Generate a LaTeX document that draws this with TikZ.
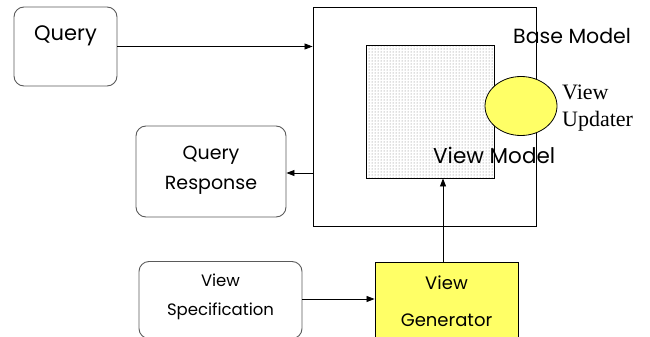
\documentclass[tikz,border=0pt]{standalone}
\usepackage{fontspec}
\setmainfont{Poppins}
\newfontfamily\serifface{Liberation Serif}
\usetikzlibrary{arrows.meta,patterns,shapes.geometric}
\definecolor{hiyellow}{RGB}{255,255,102}
\definecolor{boxgray}{RGB}{90,90,90}
\tikzset{
  roundbox/.style={draw=boxgray,line width=0.9pt,rounded corners=10pt,inner sep=0pt},
  plainbox/.style={draw=black,line width=0.9pt,inner sep=0pt},
  yellowbox/.style={draw=black,line width=0.9pt,fill=hiyellow,inner sep=0pt},
  lbl/.style={inner sep=0pt,align=center,font=\fontsize{20.5}{30}\selectfont},
  conn/.style={draw=black,line width=0.8pt,-{Triangle[length=8pt,width=6pt]}}
}
\begin{document}
\begin{tikzpicture}[x=1pt,y=-1pt]
\useasboundingbox (0,0) rectangle (650,337);
% outer base model
\node[plainbox,minimum width=223pt,minimum height=219pt] (base) at (424.5,116.5) {};
\node[lbl,anchor=west] (baselbl) at (513,36) {Base Model};
% inner view model with dotted fill
\node[plainbox,pattern=dots,pattern color=black!55,minimum width=128pt,minimum height=133pt] (vm) at (430,111.5) {};
\node[lbl,anchor=west,font=\fontsize{21.5}{30}\selectfont] (vmlbl) at (433,155) {View Model};
% view updater
\node[draw=black,line width=0.8pt,fill=hiyellow,ellipse,minimum width=72pt,minimum height=59pt,inner sep=0pt] (upd) at (521,106) {};
\node[anchor=west,inner sep=0pt,align=left,font=\serifface\fontsize{22}{27}\selectfont] (updlbl) at (562,108) {View\\Updater};
% query
\node[roundbox,minimum width=103pt,minimum height=79pt] (query) at (65.5,46.5) {};
\node[lbl,font=\fontsize{21}{30}\selectfont] (querylbl) at (65.5,36) {Query};
% query response
\node[roundbox,minimum width=150pt,minimum height=91pt] (resp) at (211,171.5) {};
\node[lbl,font=\fontsize{19}{30}\selectfont] (resplbl) at (211,170) {Query\\Response};
% view specification
\node[roundbox,minimum width=163pt,minimum height=77pt] (spec) at (220.5,300) {};
\node[lbl,font=\fontsize{16.5}{29}\selectfont] (speclbl) at (220.5,297) {View\\Specification};
% view generator
\node[yellowbox,minimum width=143pt,minimum height=76pt] (gen) at (446.5,300.5) {};
\node[lbl,font=\fontsize{18}{37}\selectfont] (genlbl) at (446.5,301) {View\\Generator};
% connectors
\draw[conn] (query.east) -- (query.east -| base.west);
\coordinate (respout) at (base.west |- 0,173);
\draw[conn] (respout) -- (respout -| resp.east);
\draw[conn] (spec.east |- 0,299) -- (gen.west |- 0,299);
\draw[conn] (gen.north -| 443,0) -- (vm.south -| 443,0);
\end{tikzpicture}
\end{document}
